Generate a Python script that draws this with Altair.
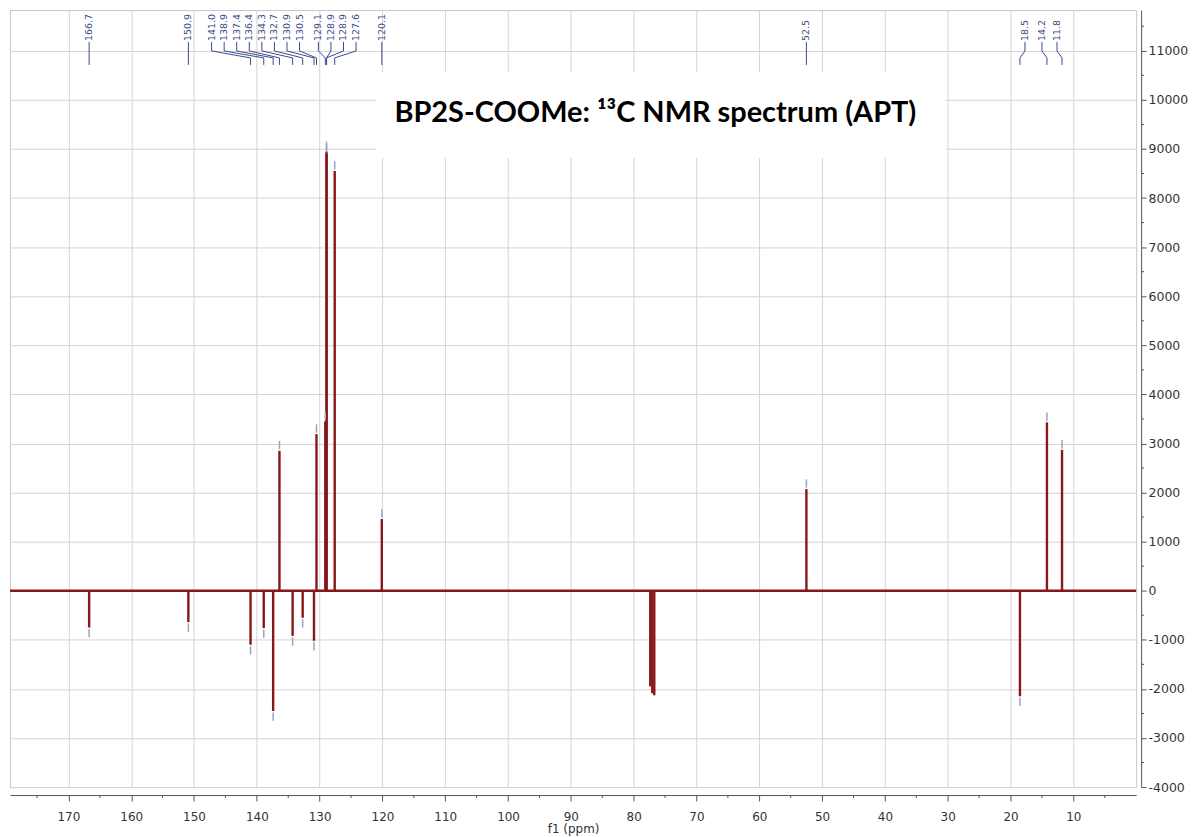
import altair as alt
import pandas as pd

# ---------------- data ----------------
peak_ppm = [166.7, 150.9, 141.0, 138.9, 137.4, 136.4, 134.3, 132.7, 130.9, 130.5,
            129.1, 128.9, 128.9, 127.6, 120.1, 52.5, 18.5, 14.2, 11.8]
peak_int = [-750, -640, -1100, -760, -2450, 2850, -920, -550, -1020, 3190,
            3450, 8950, 8900, 8550, 1460, 2070, -2150, 3430, 2870]
peak_text = ["166.7", "150.9", "141.0", "138.9", "137.4", "136.4", "134.3", "132.7",
             "130.9", "130.5", "129.1", "128.9", "128.9", "127.6", "120.1", "52.5",
             "18.5", "14.2", "11.8"]
solvent_ppm = [77.36, 77.04, 76.72]
solvent_int = [-1950, -2090, -2130]

x_major = [10, 20, 30, 40, 50, 60, 70, 80, 90, 100, 110, 120, 130, 140, 150, 160, 170]
x_minor = [5, 15, 25, 35, 45, 55, 65, 75, 85, 95, 105, 115, 125, 135, 145, 155, 165, 175]
y_major = [-4000, -3000, -2000, -1000, 0, 1000, 2000, 3000, 4000, 5000, 6000,
           7000, 8000, 9000, 10000, 11000]
y_minor = [-3500, -2500, -1500, -500, 500, 1500, 2500, 3500, 4500, 5500, 6500,
           7500, 8500, 9500, 10500, 11500]

title_text = "BP2S-COOMe: \u00b9\u00b3C NMR spectrum (APT)"
x_title = "f1 (ppm)"

# ---------------- layout (label spreading, ppm units) ----------------
label_pos = [166.7, 150.9, 147.2, 145.2, 143.2, 141.2, 139.2, 137.2, 135.2, 133.2,
             130.2, 128.2, 126.2, 124.2, 120.1, 52.5, 17.7, 15.0, 12.6]

W, H = 1129, 779
X_DOM = [0, 179.3]
Y_DOM = [-4000, 11830]
xs = alt.Scale(domain=X_DOM, reverse=True, nice=False, zero=False)
ys = alt.Scale(domain=Y_DOM, nice=False, zero=False)

RED = "#861818"
LAB = "#3a4a8a"
AX = "#555555"
TXT = "#333333"
GRID = "#d4d4d4"

x_axis = alt.Axis(values=x_major, title=x_title, offset=8, tickSize=6,
                  labelPadding=11, labelFontSize=12, labelFont="DejaVu Sans",
                  titleFont="DejaVu Sans", titleFontSize=12,
                  titleFontWeight="normal", titlePadding=1,
                  grid=True, gridColor=GRID, domainColor=AX,
                  tickColor=AX, labelColor=TXT, titleColor=TXT,
                  labelFlush=False, format="d")
y_axis = alt.Axis(orient="right", values=y_major, title="", offset=5,
                  tickSize=5, labelPadding=2, labelFontSize=12.5,
                  labelFont="DejaVu Sans", grid=True, gridColor=GRID,
                  domainColor=AX, tickColor=AX, labelColor=TXT,
                  labelFlush=False,
                  labelExpr="datum.value < 0 ? '-' + format(-datum.value, 'd') : format(datum.value, 'd')")


def X(f):
    return alt.X(f, scale=xs, axis=x_axis)


def Y(f):
    return alt.Y(f, scale=ys, axis=y_axis)


peaks = pd.DataFrame({"ppm": peak_ppm, "val": peak_int, "zero": 0,
                      "lx": label_pos, "txt": peak_text})
peaks["m1"] = [v + (30 if v > 0 else -30) for v in peaks["val"]]
peaks["m2"] = [v + (200 if v > 0 else -200) for v in peaks["val"]]
solv = pd.DataFrame({"ppm": solvent_ppm, "val": solvent_int, "zero": 0})
base = pd.DataFrame({"x1": [X_DOM[1]], "x2": [X_DOM[0]], "y": [0]})
one = pd.DataFrame({"a": [0]})

peak_layer = alt.Chart(peaks).mark_rule(color=RED, strokeWidth=2.4).encode(
    x=X("ppm:Q"), y=Y("val:Q"), y2="zero:Q")

box = alt.Chart(one).mark_rect(color="white").encode(
    x=alt.value(367), x2=alt.value(938), y=alt.value(62), y2=alt.value(148))

baseline = alt.Chart(base).mark_rule(color=RED, strokeWidth=2.4).encode(
    x=X("x1:Q"), x2="x2:Q", y=Y("y:Q"))

solv_layer = alt.Chart(solv).mark_rule(color=RED, strokeWidth=2.4).encode(
    x=X("ppm:Q"), y=Y("val:Q"), y2="zero:Q")

markers = alt.Chart(peaks).mark_rule(color="#9aa3c8", strokeWidth=1.5).encode(
    x=X("ppm:Q"), y=Y("m1:Q"), y2="m2:Q")

seg1 = alt.Chart(peaks).mark_rule(color=LAB, strokeWidth=1).encode(
    x=X("lx:Q"), y=alt.value(32), y2=alt.value(41))
seg2 = alt.Chart(peaks).mark_rule(color=LAB, strokeWidth=1).encode(
    x=X("lx:Q"), x2="ppm:Q", y=alt.value(41), y2=alt.value(48))
seg3 = alt.Chart(peaks).mark_rule(color=LAB, strokeWidth=1).encode(
    x=X("ppm:Q"), y=alt.value(48), y2=alt.value(55))

labels = alt.Chart(peaks).mark_text(angle=270, align="left", baseline="middle",
                                     fontSize=9.5, font="DejaVu Sans", color=LAB).encode(
    x=X("lx:Q"), y=alt.value(31), text="txt:N")

xminor = alt.Chart(pd.DataFrame({"t": x_minor})).mark_rule(color=AX, strokeWidth=1).encode(
    x=X("t:Q"), y=alt.value(H + 8), y2=alt.value(H + 11))
yminor = alt.Chart(pd.DataFrame({"t": y_minor})).mark_rule(color=AX, strokeWidth=1).encode(
    y=Y("t:Q"), x=alt.value(W + 5), x2=alt.value(W + 8))

title = alt.Chart(one).mark_text(font="Lato", fontWeight="bold", fontSize=29,
                                  color="black", align="center", baseline="middle").encode(
    x=alt.value(647), y=alt.value(103), text=alt.value(title_text))

chart = alt.layer(box, baseline, solv_layer, peak_layer, markers, seg1, seg2, seg3,
                  labels, xminor, yminor, title).properties(
    width=W, height=H,
    padding={"left": 0, "top": 1, "right": 2, "bottom": 0},
).configure_view(stroke="#c8c8c8", strokeWidth=1)

chart.save("out.html", embed_options={"renderer": "svg", "actions": False})
